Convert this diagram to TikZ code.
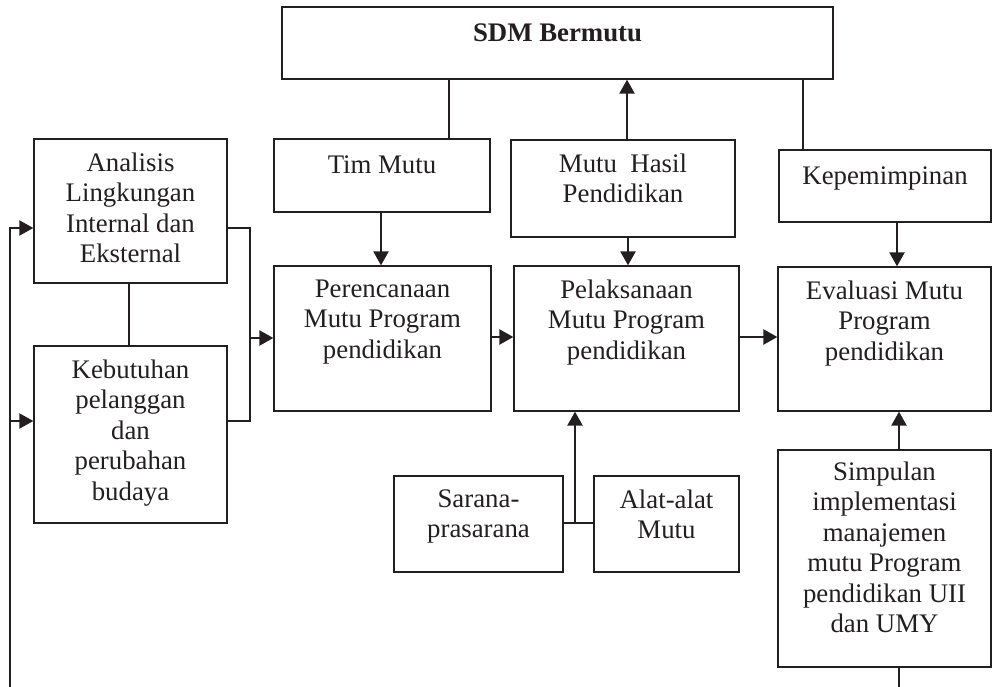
\documentclass[tikz,border=0pt]{standalone}
\usepackage{fontspec}
\setmainfont{Liberation Serif}
\usetikzlibrary{arrows.meta}
\definecolor{ink}{RGB}{35,31,32}
\begin{document}
\begin{tikzpicture}[x=1pt,y=-1pt,
  box/.style={draw=ink, line width=1.3pt, inner sep=0pt},
  txt/.style={text=ink, font=\fontsize{26.8}{30.5}\selectfont, align=center,
    anchor=north, inner sep=0pt, yshift=-14pt, execute at begin node=\strut},
  ln/.style={draw=ink, line width=1.3pt},
  fb/.style={draw=ink, line width=2pt},
  arr/.style={draw=ink, line width=2.4pt, -{Triangle[length=14pt,width=15pt]}},
]
\useasboundingbox (0,0) rectangle (992,687);

% boxes
\node[box, minimum width=551pt, minimum height=72pt]  (sdm)   at (557.5,43)  {};
\node[box, minimum width=216pt, minimum height=73pt]  (tim)   at (382,175.5) {};
\node[box, minimum width=224pt, minimum height=97pt]  (hasil) at (623,188.5) {};
\node[box, minimum width=212pt, minimum height=72pt]  (kep)   at (885,186)   {};
\node[box, minimum width=193pt, minimum height=144pt] (ana)   at (130.5,211) {};
\node[box, minimum width=193pt, minimum height=177pt] (keb)   at (130.5,434.5) {};
\node[box, minimum width=217pt, minimum height=145pt] (per)   at (382.5,338.5) {};
\node[box, minimum width=225pt, minimum height=145pt] (pel)   at (626.5,338.5) {};
\node[box, minimum width=213pt, minimum height=144pt] (eva)   at (884.5,339) {};
\node[box, minimum width=169pt, minimum height=96pt]  (sar)   at (478.5,524) {};
\node[box, minimum width=145pt, minimum height=96pt]  (alat)  at (666.5,524) {};
\node[box, minimum width=213pt, minimum height=217pt] (sim)   at (884.5,558.5) {};

% texts
\node[txt] (sdmT)   at (sdm.north)   {\textbf{SDM Bermutu}};
\node[txt] (timT)   at (tim.north)   {Tim Mutu};
\node[txt] (hasilT) at (hasil.north) {Mutu\enspace Hasil\\Pendidikan};
\node[txt] (kepT)   at (kep.north)   {Kepemimpinan};
\node[txt] (anaT)   at (ana.north)   {Analisis\\Lingkungan\\Internal dan\\Eksternal};
\node[txt] (kebT)   at (keb.north)   {Kebutuhan\\pelanggan\\dan\\perubahan\\budaya};
\node[txt] (perT)   at (per.north)   {Perencanaan\\Mutu Program\\pendidikan};
\node[txt] (pelT)   at (pel.north)   {Pelaksanaan\\Mutu Program\\pendidikan};
\node[txt] (evaT)   at (eva.north)   {Evaluasi Mutu\\Program\\pendidikan};
\node[txt] (sarT)   at (sar.north)   {Sarana-\\prasarana};
\node[txt] (alatT)  at (alat.north)  {Alat-alat\\Mutu};
\node[txt, yshift=2pt] (simT) at (sim.north) {Simpulan\\implementasi\\manajemen\\mutu Program\\pendidikan UII\\dan UMY};

% connector positions
\coordinate (cTim) at (449,0);
\coordinate (cHas) at (627,0);
\coordinate (cKep) at (803,0);
\coordinate (cTP)  at (381,0);
\coordinate (cHP)  at (628,0);
\coordinate (cKE)  at (897,0);
\coordinate (cSE)  at (899,0);
\coordinate (cAK)  at (129,0);
\coordinate (cJ)   at (575,523);
\coordinate (cBr)  at (250,0);
\coordinate (cFb)  at (10,687);
\coordinate (yA)   at (0,228);
\coordinate (yK)   at (0,421);
\coordinate (yM)   at (0,338);
\coordinate (yP)   at (0,337);

% connectors
\draw[ln]  (sdm.south -| cTim) -- (tim.north -| cTim);
\draw[arr] (hasil.north -| cHas) -- (sdm.south -| cHas);
\draw[ln]  (sdm.south -| cKep) -- (kep.north -| cKep);
\draw[arr] (tim.south -| cTP) -- (per.north -| cTP);
\draw[arr] (hasil.south -| cHP) -- (pel.north -| cHP);
\draw[arr] (kep.south -| cKE) -- (eva.north -| cKE);
\draw[arr] (per.east |- yP) -- (pel.west |- yP);
\draw[arr] (pel.east |- yP) -- (eva.west |- yP);
\draw[arr] (sim.north -| cSE) -- (eva.south -| cSE);
\draw[ln]  (sar.east |- cJ) -- (alat.west |- cJ);
\draw[arr] (cJ) -- (pel.south -| cJ);
\draw[ln]  (ana.south -| cAK) -- (keb.north -| cAK);
\draw[fb]  (ana.east |- yA) -| (cBr |- yK) -- (keb.east |- yK);
\draw[arr] (cBr |- yM) -- (per.west |- yM);
\draw[fb]  (sim.south -| cSE) -- (cSE |- cFb);
\draw[arr, line width=2pt] (cFb) |- (ana.west |- yA);
\draw[arr, line width=2pt] (cFb |- yK) -- (keb.west |- yK);
\end{tikzpicture}
\end{document}
